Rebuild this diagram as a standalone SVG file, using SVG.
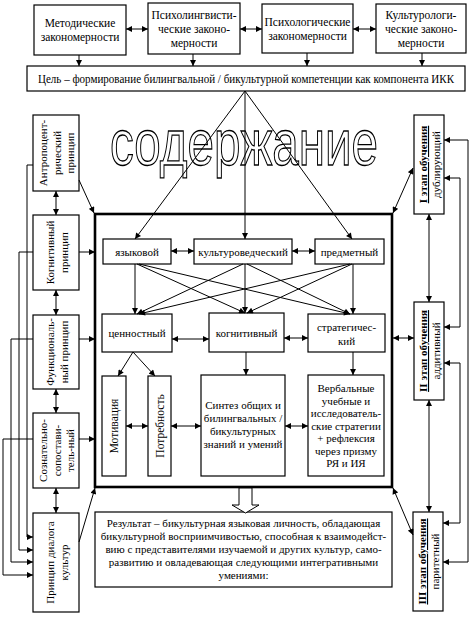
<svg xmlns="http://www.w3.org/2000/svg" width="471" height="617" viewBox="0 0 471 617">
<defs>
<marker id="ah" viewBox="0 0 10 10" refX="10" refY="5" markerWidth="7" markerHeight="6" markerUnits="userSpaceOnUse" orient="auto-start-reverse"><path d="M0,0 L10,5 L0,10 z" fill="#000"/></marker>
<style>
.b{fill:#fff;stroke:#000;stroke-width:1.2}
.t{font-family:"Liberation Serif","Times New Roman","DejaVu Serif",serif;font-size:11.5px;fill:#000;text-anchor:middle}
.s{font-size:11px}
.r{font-size:11px}
.c line,.c polyline,.c path{fill:none;stroke:#000;stroke-width:1}
.e{marker-end:url(#ah)}
.d{marker-start:url(#ah);marker-end:url(#ah)}
.u{font-weight:bold;text-decoration:underline}
</style>
</defs>
<rect width="471" height="617" fill="#fff"/>

<text x="244" y="165" font-family="'Liberation Sans',Arial,sans-serif" font-size="64" textLength="268" lengthAdjust="spacingAndGlyphs" text-anchor="middle" fill="#fff" stroke="#000" stroke-width="1.3">содержание</text>

<g id="n-metod"><rect class="b" x="34" y="5" width="92" height="50"/><text class="t"><tspan x="80" y="27">Методические</tspan><tspan x="80" y="41">закономерности</tspan></text></g>
<g id="n-psiling"><rect class="b" x="148" y="3" width="92" height="51"/><text class="t"><tspan x="194" y="19">Психолингвисти-</tspan><tspan x="194" y="33">ческие законо-</tspan><tspan x="194" y="47">мерности</tspan></text></g>
<g id="n-psih"><rect class="b" x="262" y="4" width="91" height="49"/><text class="t"><tspan x="307.5" y="26">Психологические</tspan><tspan x="307.5" y="40">закономерности</tspan></text></g>
<g id="n-kult"><rect class="b" x="376" y="4" width="90" height="49"/><text class="t"><tspan x="421" y="19">Культурологи-</tspan><tspan x="421" y="33">ческие законо-</tspan><tspan x="421" y="47">мерности</tspan></text></g>

<g id="n-goal"><rect class="b" x="27" y="66" width="438" height="25"/><text class="t" x="246" y="83" textLength="416" lengthAdjust="spacingAndGlyphs">Цель – формирование билингвальной / бикультурной компетенции как компонента ИКК</text></g>

<g id="n-main"><rect x="95" y="214" width="297" height="273" fill="none" stroke="#000" stroke-width="2.6"/></g>

<g id="n-antr"><rect class="b" x="33" y="115" width="46" height="76"/><text class="t s" transform="translate(56,153) rotate(-90)"><tspan x="0" y="-9">Антропоцент-</tspan><tspan x="0" y="4.5">рический</tspan><tspan x="0" y="18">принцип</tspan></text></g>
<g id="n-kogp"><rect class="b" x="33" y="215" width="46" height="75"/><text class="t s" transform="translate(56,252.5) rotate(-90)"><tspan x="0" y="-2">Когнитивный</tspan><tspan x="0" y="12">принцип</tspan></text></g>
<g id="n-func"><rect class="b" x="33" y="315" width="46" height="74"/><text class="t s" transform="translate(56,352) rotate(-90)"><tspan x="0" y="-2">Функциональ-</tspan><tspan x="0" y="12">ный принцип</tspan></text></g>
<g id="n-sozn"><rect class="b" x="33" y="413" width="46" height="75"/><text class="t s" transform="translate(56,450.5) rotate(-90)"><tspan x="0" y="-9">Сознательно-</tspan><tspan x="0" y="4.5">сопостави-</tspan><tspan x="0" y="18">тель-ный</tspan></text></g>
<g id="n-dial"><rect class="b" x="33" y="513" width="46" height="99"/><text class="t s" transform="translate(56,562.5) rotate(-90)"><tspan x="0" y="-2">Принцип диалога</tspan><tspan x="0" y="12">культур</tspan></text></g>

<g id="n-st1"><rect class="b" x="414" y="115" width="30" height="99"/><text class="t r" transform="translate(429,164.5) rotate(-90)"><tspan x="0" y="-2" class="u">I этап обучения</tspan><tspan x="0" y="11">дублирующий</tspan></text></g>
<g id="n-st2"><rect class="b" x="414" y="302" width="30" height="98"/><text class="t r" transform="translate(429,351) rotate(-90)"><tspan x="0" y="-2" class="u">II этап обучения</tspan><tspan x="0" y="11">аддитивный</tspan></text></g>
<g id="n-st3"><rect class="b" x="413" y="512" width="30" height="99"/><text class="t r" transform="translate(428,561.5) rotate(-90)"><tspan x="0" y="-2" class="u">III этап обучения</tspan><tspan x="0" y="11">паритетный</tspan></text></g>

<g id="n-yaz"><rect class="b" x="103" y="239" width="68" height="25"/><text class="t s" x="137" y="255.5">языковой</text></g>
<g id="n-kultv"><rect class="b" x="194" y="239" width="98" height="25"/><text class="t s" x="243" y="255.5">культуроведческий</text></g>
<g id="n-pred"><rect class="b" x="315" y="239" width="69" height="25"/><text class="t s" x="349.5" y="255.5">предметный</text></g>

<g id="n-cen"><rect class="b" x="102" y="314" width="70" height="38"/><text class="t s" x="137" y="337">ценностный</text></g>
<g id="n-kog"><rect class="b" x="209" y="313" width="75" height="39"/><text class="t s" x="246.5" y="336.5">когнитивный</text></g>
<g id="n-strat"><rect class="b" x="308" y="314" width="77" height="38"/><text class="t s"><tspan x="346.5" y="331">стратегичес-</tspan><tspan x="346.5" y="345">кий</tspan></text></g>

<g id="n-motiv"><rect class="b" x="102" y="376" width="24" height="100"/><text class="t" transform="translate(114,426) rotate(-90)" x="0" y="4">Мотивация</text></g>
<g id="n-potr"><rect class="b" x="148" y="376" width="23" height="100"/><text class="t" transform="translate(159.5,426) rotate(-90)" x="0" y="4">Потребность</text></g>
<g id="n-sint"><rect class="b" x="201" y="375" width="84" height="101"/><text class="t s"><tspan x="243" y="409">Синтез общих и</tspan><tspan x="243" y="422">билингвальных /</tspan><tspan x="243" y="435">бикультурных</tspan><tspan x="243" y="448">знаний и умений</tspan></text></g>
<g id="n-verb"><rect class="b" x="308" y="375" width="76" height="101"/><text class="t s"><tspan x="346" y="392">Вербальные</tspan><tspan x="346" y="404.5">учебные и</tspan><tspan x="346" y="417">исследователь-</tspan><tspan x="346" y="429.5">ские стратегии</tspan><tspan x="346" y="442">+ рефлексия</tspan><tspan x="346" y="454.5">через призму</tspan><tspan x="346" y="467">РЯ и ИЯ</tspan></text></g>

<g id="n-result"><rect class="b" x="95" y="512" width="297" height="75"/><text class="t s"><tspan x="243.5" y="527">Результат – бикультурная языковая личность, обладающая</tspan><tspan x="243.5" y="540">бикультурной восприимчивостью, способная к взаимодейст-</tspan><tspan x="243.5" y="553">вию с представителями изучаемой и других культур, само-</tspan><tspan x="243.5" y="566">развитию и овладевающая следующими интегративными</tspan><tspan x="243.5" y="579">умениями:</tspan></text></g>

<g id="connectors" class="c">
<line class="d" x1="126" y1="29" x2="148" y2="29"/>
<line class="d" x1="240" y1="29" x2="262" y2="29"/>
<line class="d" x1="353" y1="29" x2="376" y2="29"/>
<line class="e" x1="79" y1="55" x2="79" y2="66"/>
<line class="e" x1="193" y1="54" x2="193" y2="66"/>
<line class="e" x1="307" y1="53" x2="307" y2="66"/>
<line class="e" x1="422" y1="53" x2="422" y2="66"/>
<line class="e" x1="245" y1="91" x2="135" y2="239"/>
<line class="e" x1="245" y1="91" x2="245" y2="239"/>
<line class="e" x1="245" y1="91" x2="352" y2="239"/>

<line class="d" x1="56" y1="191" x2="56" y2="215"/>
<line class="d" x1="56" y1="290" x2="56" y2="315"/>
<line class="d" x1="56" y1="389" x2="56" y2="413"/>
<line class="d" x1="56" y1="488" x2="56" y2="513"/>
<line class="e" x1="79" y1="180" x2="94" y2="213"/>
<line class="e" x1="79" y1="252" x2="95" y2="252"/>
<line class="e" x1="79" y1="339" x2="95" y2="339"/>
<line class="e" x1="79" y1="439" x2="95" y2="439"/>
<line class="e" x1="79" y1="542" x2="95" y2="488"/>
<polyline class="e" points="33,165 27,165 27,537 33,537"/>
<polyline class="e" points="33,252 19,252 19,550 33,550"/>
<polyline class="e" points="33,339 11,339 11,562 33,562"/>
<polyline class="e" points="33,439 3,439 3,575 33,575"/>

<line class="d" x1="393" y1="213" x2="413" y2="168"/>
<line class="d" x1="393" y1="338" x2="414" y2="338"/>
<line class="d" x1="393" y1="488" x2="413" y2="535"/>
<line class="d" x1="429" y1="214" x2="429" y2="302"/>
<line class="d" x1="429" y1="400" x2="429" y2="512"/>
<polyline class="d" points="444,140 468,140 468,562 443,562"/>
<polyline class="d" points="444,178 460,178 460,327 444,327"/>
<polyline class="d" points="444,363 460,363 460,523 443,523"/>

<line class="d" x1="171" y1="251" x2="194" y2="251"/>
<line class="d" x1="292" y1="251" x2="315" y2="251"/>
<line class="e" x1="135" y1="264" x2="135" y2="314"/>
<line class="e" x1="137" y1="264" x2="245" y2="313"/>
<line class="e" x1="139" y1="264" x2="350" y2="314"/>
<line class="e" x1="243" y1="264" x2="137" y2="314"/>
<line class="e" x1="245" y1="264" x2="245" y2="313"/>
<line class="e" x1="247" y1="264" x2="350" y2="314"/>
<line class="e" x1="350" y1="264" x2="139" y2="314"/>
<line class="e" x1="352" y1="264" x2="247" y2="313"/>
<line class="e" x1="353" y1="264" x2="353" y2="314"/>

<line class="d" x1="172" y1="339" x2="209" y2="339"/>
<line class="d" x1="284" y1="338" x2="308" y2="338"/>
<line class="e" x1="133" y1="352" x2="118" y2="376"/>
<line class="e" x1="133" y1="352" x2="155" y2="376"/>
<line class="e" x1="246" y1="352" x2="246" y2="375"/>
<line class="e" x1="353" y1="352" x2="353" y2="375"/>
<line class="d" x1="126" y1="426" x2="148" y2="426"/>
<line class="d" x1="171" y1="426" x2="201" y2="426"/>
<line class="d" x1="285" y1="426" x2="308" y2="426"/>
<polygon points="239,488 252,488 252,505 259,505 245.5,513 232,505 239,505" fill="#fff" stroke="#000" stroke-width="1"/>
</g>
</svg>
